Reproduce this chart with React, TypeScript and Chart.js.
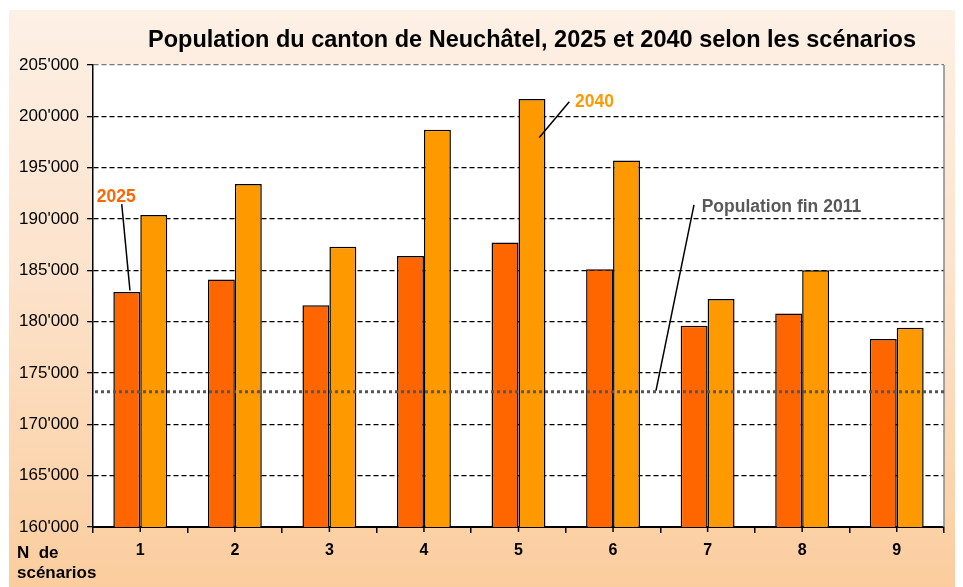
import React, { useEffect, useRef } from "react";
import { Chart, registerables } from "chart.js";

Chart.register(...registerables);

const categories = ["1", "2", "3", "4", "5", "6", "7", "8", "9"];
const pop2025 = [182900, 184100, 181600, 186400, 187700, 185100, 179600, 180800, 178300];
const pop2040 = [190400, 193400, 187300, 198700, 201700, 195700, 182200, 185000, 179400];
const popEnd2011 = 173183;
const yMin = 160000;
const yMax = 205000;
const yStep = 5000;

const titleText = "Population du canton de Neuchâtel, 2025 et 2040 selon les scénarios";
const FONT = "'Liberation Sans', Arial, sans-serif";

function fmt(v: number): string {
  const s = String(Math.round(v));
  return s.replace(/\B(?=(\d{3})+(?!\d))/g, "'");
}

const decorPlugin = {
  id: "decor",
  beforeDraw(chart: any) {
    const { ctx, chartArea, width, height } = chart;
    ctx.save();
    const g = ctx.createLinearGradient(0, 2, 0, height);
    g.addColorStop(0, "#FDF0E5");
    g.addColorStop(0.45, "#FCE3CC");
    g.addColorStop(1, "#FBCD9E");
    ctx.fillStyle = g;
    ctx.fillRect(1, 2, width - 1, height - 2);
    ctx.fillStyle = "#FFFFFF";
    ctx.fillRect(chartArea.left, chartArea.top, chartArea.right - chartArea.left, chartArea.bottom - chartArea.top);
    ctx.restore();
  },
  afterDatasetsDraw(chart: any) {
    const { ctx, chartArea } = chart;
    const xs = chart.scales.x;
    const ys = chart.scales.y;
    const P = (c: number, v: number) => [xs.getPixelForValue(c), ys.getPixelForValue(v)];
    ctx.save();
    // right border
    ctx.strokeStyle = "#8A8A8A";
    ctx.lineWidth = 1.5;
    ctx.beginPath();
    ctx.moveTo(chartArea.right, chartArea.top);
    ctx.lineTo(chartArea.right, chartArea.bottom);
    ctx.stroke();

    // dotted population line
    const yl = ys.getPixelForValue(popEnd2011);
    ctx.strokeStyle = "#555555";
    ctx.lineWidth = 3;
    ctx.setLineDash([3, 3]);
    ctx.beginPath();
    ctx.moveTo(chartArea.left + 2, yl);
    ctx.lineTo(chartArea.right, yl);
    ctx.stroke();
    ctx.setLineDash([]);

    // center tick marks on x axis
    ctx.strokeStyle = "#000";
    ctx.lineWidth = 1.5;
    for (let i = 0; i < categories.length; i++) {
      const x = xs.getPixelForValue(i);
      ctx.beginPath();
      ctx.moveTo(x, chartArea.bottom);
      ctx.lineTo(x, chartArea.bottom + 5);
      ctx.stroke();
    }

    // annotations
    const ann = [
      { text: "2025", color: "#FF6600", t: [-0.461, 191640], a: [-0.196, 191450], b: [-0.109, 183040] },
      { text: "2040", color: "#FF9900", t: [4.597, 200885], a: [4.537, 201430], b: [4.22, 197930] },
      { text: "Population fin 2011", color: "#595959", t: [5.937, 190730], a: [5.856, 191380], b: [5.454, 173280] },
    ];
    ctx.font = `bold 17.5px ${FONT}`;
    ctx.textBaseline = "alphabetic";
    ctx.textAlign = "left";
    for (const n of ann) {
      const [tx, ty] = P(n.t[0], n.t[1]);
      ctx.fillStyle = n.color;
      ctx.fillText(n.text, tx, ty);
      const [ax, ay] = P(n.a[0], n.a[1]);
      const [bx, by] = P(n.b[0], n.b[1]);
      ctx.strokeStyle = "#000";
      ctx.lineWidth = 1.5;
      ctx.beginPath();
      ctx.moveTo(ax, ay);
      ctx.lineTo(bx, by);
      ctx.stroke();
    }

    // title (condensed bold)
    ctx.font = `bold 24px ${FONT}`;
    ctx.fillStyle = "#000";
    const w = ctx.measureText(titleText).width;
    const target = 768;
    ctx.save();
    ctx.translate(140, 39);
    ctx.scale(target / w, 1);
    ctx.fillText(titleText, 0, 0);
    ctx.restore();

    // axis title
    ctx.font = `bold 17px ${FONT}`;
    ctx.fillStyle = "#000";
    ctx.fillText("N  de", 9, 550);
    ctx.fillText("scénarios", 9, 570);
    ctx.restore();
  },
};

export default function App() {
  const ref = useRef<HTMLCanvasElement | null>(null);
  useEffect(() => {
    if (!ref.current) return;
    Chart.defaults.font.family = FONT;
    const chart = new Chart(ref.current, {
      type: "bar",
      data: {
        labels: categories,
        datasets: [
          {
            label: "2025",
            data: pop2025,
            backgroundColor: "#FF6600",
            borderColor: "#000000",
            borderWidth: 1.5,
            categoryPercentage: 0.57,
            barPercentage: 1.0,
          },
          {
            label: "2040",
            data: pop2040,
            backgroundColor: "#FF9900",
            borderColor: "#000000",
            borderWidth: 1.5,
            categoryPercentage: 0.57,
            barPercentage: 1.0,
          },
        ],
      },
      options: {
        responsive: false,
        animation: false,
        layout: { padding: { top: 57, right: 19, bottom: 20, left: 0 } },
        plugins: {
          legend: { display: false },
          tooltip: { enabled: false },
          title: { display: false },
        },
        scales: {
          x: {
            grid: {
              display: true,
              drawOnChartArea: false,
              drawTicks: true,
              tickLength: 6,
              color: "#000",
              lineWidth: 1.5,
              offset: true,
            },
            border: { display: true, color: "#000", width: 2 },
            ticks: {
              color: "#000",
              font: { size: 16, weight: "bold" },
              padding: 8,
            },
            afterFit: (s: any) => {
              s.height = 40;
            },
          },
          y: {
            min: yMin,
            max: yMax,
            grid: {
              color: (c: any) => (c.tick && c.tick.value === yMax ? "#7A7A7A" : "#000"),
              lineWidth: 1.3,
              drawTicks: true,
              tickLength: 6,
              tickColor: "#000",
              tickBorderDash: [],
            },
            border: { display: true, color: "#000", width: 1.5, dash: [5, 3] },
            ticks: {
              stepSize: yStep,
              color: "#000",
              font: { size: 17 },
              padding: 8,
              callback: (v: any) => fmt(Number(v)),
            },
            afterFit: (s: any) => {
              s.width = 85;
            },
          },
        },
      },
      plugins: [decorPlugin],
    } as any);
    return () => chart.destroy();
  }, []);
  return <canvas ref={ref} width={955} height={579} style={{ display: "block" }} />;
}
